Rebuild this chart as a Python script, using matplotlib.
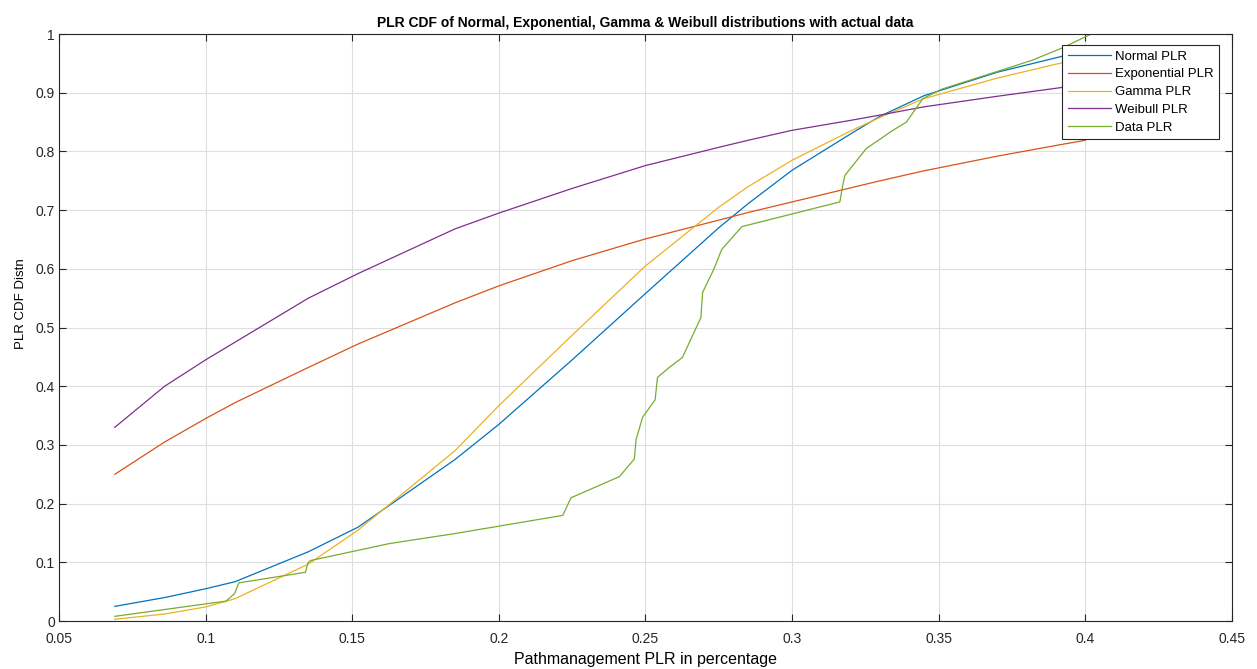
import numpy as np
import matplotlib
matplotlib.use("Agg")
import matplotlib.pyplot as plt

plt.rcParams['font.family'] = ['Liberation Sans', 'DejaVu Sans']

# x positions the fitted CDFs were evaluated at
x_fit = [0.069, 0.086, 0.1, 0.11, 0.135, 0.152, 0.185, 0.2, 0.225, 0.25,
         0.275, 0.285, 0.3, 0.32, 0.33, 0.345, 0.37, 0.392, 0.4]
normal_cdf = [0.025, 0.04, 0.055, 0.067, 0.118, 0.16, 0.275, 0.335, 0.445, 0.558,
              0.67, 0.711, 0.768, 0.83, 0.86, 0.895, 0.935, 0.962, 0.968]
expo_cdf = [0.25, 0.305, 0.345, 0.372, 0.432, 0.472, 0.542, 0.571, 0.614, 0.651,
            0.683, 0.696, 0.714, 0.738, 0.75, 0.767, 0.792, 0.812, 0.819]
gamma_cdf = [0.003, 0.012, 0.024, 0.038, 0.097, 0.155, 0.29, 0.367, 0.487, 0.605,
             0.705, 0.74, 0.785, 0.835, 0.858, 0.89, 0.925, 0.951, 0.957]
weibull_cdf = [0.33, 0.4, 0.445, 0.475, 0.55, 0.592, 0.668, 0.695, 0.737, 0.776,
               0.807, 0.819, 0.836, 0.853, 0.862, 0.876, 0.894, 0.909, 0.914]

# empirical CDF of the measured PLR
x_data = [0.069, 0.107, 0.1099, 0.1113, 0.134, 0.1349, 0.1357, 0.1627, 0.185,
          0.2218, 0.2246, 0.2411, 0.2462, 0.2468, 0.249, 0.2533, 0.2541, 0.2581,
          0.2626, 0.2689, 0.2695, 0.2732, 0.276, 0.2829, 0.3163, 0.3172, 0.318,
          0.3253, 0.3344, 0.339, 0.3446, 0.351, 0.3817, 0.392, 0.402]
y_data = [0.008, 0.034, 0.047, 0.065, 0.083, 0.099, 0.103, 0.132, 0.149,
          0.18, 0.21, 0.246, 0.276, 0.309, 0.347, 0.377, 0.415, 0.432,
          0.449, 0.517, 0.56, 0.598, 0.633, 0.672, 0.714, 0.74, 0.759,
          0.805, 0.836, 0.85, 0.89, 0.906, 0.955, 0.976, 1.0]

labels = ['Normal PLR', 'Exponential PLR', 'Gamma PLR', 'Weibull PLR', 'Data PLR']
colors = ['#0072BD', '#D95319', '#EDB120', '#7E2F8E', '#77AC30']

fig = plt.figure(figsize=(12.57, 6.69), dpi=100)
ax = fig.add_axes([0.047, 0.0717, 0.933, 0.8774])

series = [(x_fit, normal_cdf), (x_fit, expo_cdf), (x_fit, gamma_cdf),
          (x_fit, weibull_cdf), (x_data, y_data)]
for (xs, ys), lab, c in zip(series, labels, colors):
    ax.plot(xs, ys, color=c, lw=0.9, label=lab)

ax.set_xlim(0.05, 0.45)
ax.set_ylim(0, 1)
ax.set_xticks(np.arange(0.05, 0.451, 0.05))
ax.set_xticklabels(['0.05', '0.1', '0.15', '0.2', '0.25', '0.3', '0.35', '0.4', '0.45'])
ax.set_yticks(np.arange(0, 1.01, 0.1))
ax.set_yticklabels(['0', '0.1', '0.2', '0.3', '0.4', '0.5', '0.6', '0.7', '0.8', '0.9', '1'])
ax.tick_params(direction='in', top=True, right=True, labelsize=10, colors='#262626',
               length=5, width=0.8, pad=3)
ax.tick_params(axis='x', pad=8)
ax.grid(True, color='#dedede', lw=0.8)
ax.set_axisbelow(True)
for s in ax.spines.values():
    s.set_color('#262626')
    s.set_linewidth(0.8)

ax.set_title('PLR CDF of Normal, Exponential, Gamma & Weibull distributions with actual data',
             fontsize=10, fontweight='bold', pad=5)
ax.set_xlabel('Pathmanagement PLR in percentage', fontsize=11.5, labelpad=4)
ax.set_ylabel('PLR CDF Distn', fontsize=9.5)
ax.yaxis.set_label_coords(-0.027, 0.54)

leg = ax.legend(loc='upper right', bbox_to_anchor=(0.989, 0.981), fontsize=9.5,
                fancybox=False, framealpha=1, edgecolor='#262626', handlelength=3.3,
                borderpad=0.4, labelspacing=0.42, handletextpad=0.3, borderaxespad=0)
leg.get_frame().set_linewidth(0.8)

fig.savefig('out.png', dpi=100)
